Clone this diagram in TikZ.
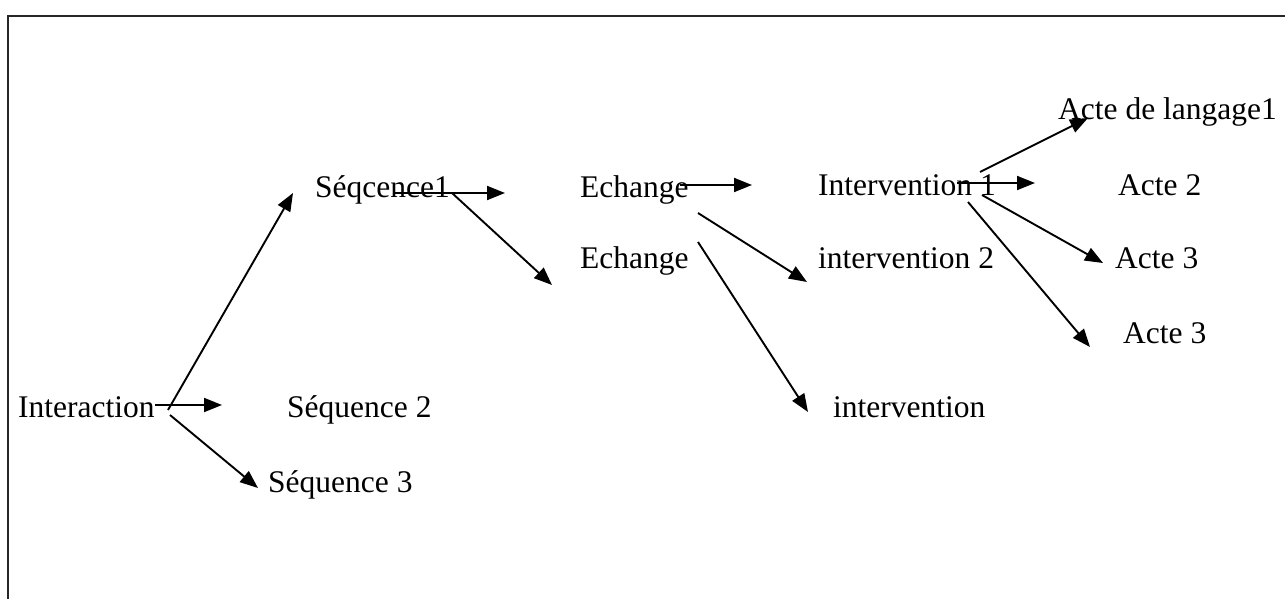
\documentclass[tikz,border=0pt]{standalone}
\usepackage{fontspec}
\setmainfont{Liberation Serif}
\usetikzlibrary{arrows.meta}
\begin{document}
\begin{tikzpicture}[x=1pt,y=-1pt,
  lbl/.style={anchor=base west,inner sep=0pt,font=\fontsize{31.5}{36}\selectfont},
  link/.style={line width=1.9pt,-{Triangle[length=18pt,width=14pt]}},
  frame/.style={line width=2pt,draw=black!85}]
\useasboundingbox (0,0) rectangle (1285,599);
% open frame: top and left edges only
\draw[frame] (8,599) -- (8,16) -- (1285,16);

% labels
\node[lbl] (inter) at (18,417) {Interaction};
\node[lbl] (seq1) at (315,197) {Séqcence1};
\node[lbl] (seq2) at (287,417) {Séquence 2};
\node[lbl] (seq3) at (268,492) {Séquence 3};
\node[lbl] (ech1) at (580,197) {Echange};
\node[lbl] (ech2) at (580,268) {Echange};
\node[lbl] (int1) at (818,195) {Intervention 1};
\node[lbl] (int2) at (818,268) {intervention 2};
\node[lbl] (int3) at (833,417) {intervention};
\node[lbl] (acl) at (1058,120) {Acte de langage1};
\node[lbl] (act2) at (1118,195) {Acte 2};
\node[lbl] (act3) at (1115,268) {Acte 3};
\node[lbl] (act3b) at (1123,343) {Acte 3};

% arrow end points
\coordinate (iA) at (168,410);  \coordinate (iAt) at (293,193);
\coordinate (iB) at (155,405);  \coordinate (iBt) at (222,405);
\coordinate (iC) at (170,415);  \coordinate (iCt) at (258,488);
\coordinate (sA) at (395,193);  \coordinate (sAt) at (505,193);
\coordinate (sB) at (452,193);  \coordinate (sBt) at (552,285);
\coordinate (eA) at (680,185);  \coordinate (eAt) at (752,185);
\coordinate (eB) at (698,213);  \coordinate (eBt) at (807,282);
\coordinate (eC) at (698,242);  \coordinate (eCt) at (808,412);
\coordinate (nA) at (980,172);  \coordinate (nAt) at (1088,118);
\coordinate (nB) at (957,183);  \coordinate (nBt) at (1035,183);
\coordinate (nC) at (982,195);  \coordinate (nCt) at (1103,263);
\coordinate (nD) at (968,202);  \coordinate (nDt) at (1090,347);

\draw[link] (iA) -- (iAt);
\draw[link] (iB) -- (iBt);
\draw[link] (iC) -- (iCt);
\draw[link] (sA) -- (sAt);
\draw[link] (sB) -- (sBt);
\draw[link] (eA) -- (eAt);
\draw[link] (eB) -- (eBt);
\draw[link] (eC) -- (eCt);
\draw[link] (nA) -- (nAt);
\draw[link] (nB) -- (nBt);
\draw[link] (nC) -- (nCt);
\draw[link] (nD) -- (nDt);
\end{tikzpicture}
\end{document}
